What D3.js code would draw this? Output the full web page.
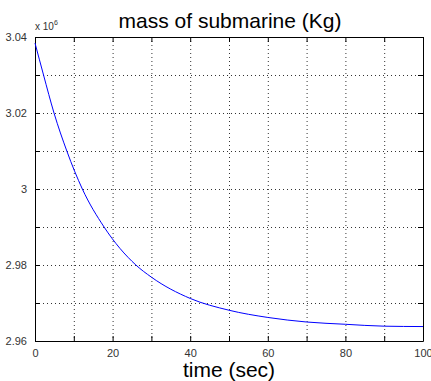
<!DOCTYPE html>
<html>
<head>
<meta charset="utf-8">
<script src="https://cdn.jsdelivr.net/npm/d3@7"></script>
<style>
  body { margin: 0; background: #fff; }
  text { font-family: "Liberation Sans", Arial, sans-serif; }
</style>
</head>
<body>
<svg id="massgraph"></svg>
<script>
// values (mass in units of 10^6 kg)
var timeSec = [0, 2.2, 4.9, 8.2, 12.2, 17.8, 26, 30, 40, 50, 60, 70, 80, 90, 100]
var massVal = [3.0384, 3.03, 3.02, 3.01, 3.00, 2.99, 2.98, 2.9768, 2.9712, 2.9681, 2.9662, 2.9650, 2.9644, 2.9639, 2.9638]
var xTickLabels = [0, 20, 40, 60, 80, 100]
var yTickLabels = [2.96, 2.98, 3, 3.02, 3.04]
var xGrid = [0, 10, 20, 30, 40, 50, 60, 70, 80, 90, 100]
var yGrid = [2.96, 2.97, 2.98, 2.99, 3, 3.01, 3.02, 3.03, 3.04]

var screen = {width:431, height:381}
var margins = {left:35, right:8, top:37, bottom:40}
var graph = {
    width: screen.width - margins.left - margins.right,
    height: screen.height - margins.top - margins.bottom
}

var svg = d3.select("#massgraph")
    .attr("width", screen.width)
    .attr("height", screen.height)

var target = svg.append("g")
    .attr("transform", "translate(" + margins.left + "," + margins.top + ")")

var xScale = d3.scaleLinear().domain([0, 100]).range([0, graph.width])
var yScale = d3.scaleLinear().domain([2.96, 3.04]).range([graph.height, 0])

// dotted grid
target.selectAll(".vgrid")
    .data(xGrid.slice(1, -1))
    .enter().append("line")
    .attr("x1", function(d) { return xScale(d) + 0.5 })
    .attr("x2", function(d) { return xScale(d) + 0.5 })
    .attr("y1", 0).attr("y2", graph.height)
    .attr("stroke", "#333").attr("stroke-dasharray", "1,3")

target.selectAll(".hgrid")
    .data(yGrid.slice(1, -1))
    .enter().append("line")
    .attr("y1", function(d) { return yScale(d) + 0.5 })
    .attr("y2", function(d) { return yScale(d) + 0.5 })
    .attr("x1", 0).attr("x2", graph.width)
    .attr("stroke", "#333").attr("stroke-dasharray", "1,3")

// axes with inward ticks
var fmt = function(d) { return xTickLabels.indexOf(d) >= 0 ? d : "" }
var yfmt = function(d) { return yTickLabels.indexOf(+d.toFixed(2)) >= 0 ? d3.format("")(+d.toFixed(2)) : "" }

var xAxis = d3.axisBottom(xScale).tickValues(xGrid).tickFormat(fmt).tickSizeInner(-5).tickSizeOuter(0).tickPadding(8)
var xAxisTop = d3.axisTop(xScale).tickValues(xGrid).tickFormat("").tickSizeInner(-5).tickSizeOuter(0)
var yAxis = d3.axisLeft(yScale).tickValues(yGrid).tickFormat(yfmt).tickSizeInner(-5).tickSizeOuter(0).tickPadding(8)
var yAxisRight = d3.axisRight(yScale).tickValues(yGrid).tickFormat("").tickSizeInner(-5).tickSizeOuter(0)

var axes = [
    [xAxis, "translate(0," + graph.height + ")"],
    [xAxisTop, "translate(0,0)"],
    [yAxis, "translate(0,0)"],
    [yAxisRight, "translate(" + graph.width + ",0)"]
]
axes.forEach(function(a) {
    var g = target.append("g").attr("transform", a[1]).call(a[0])
    g.selectAll("text").attr("font-size", 11).attr("fill", "#333")
        .style("font-family", "'Liberation Sans', Arial, sans-serif")
    g.select(".domain").attr("stroke", "#000")
    g.selectAll(".tick line").attr("stroke", "#000")
})

// curve
var line = d3.line()
    .x(function(d, i) { return xScale(timeSec[i]) })
    .y(function(d) { return yScale(d) })
    .curve(d3.curveMonotoneX)

target.append("path")
    .datum(massVal)
    .attr("d", line)
    .attr("fill", "none")
    .attr("stroke", "#0000ff")
    .attr("stroke-width", 1)

// labels
var labels = svg.append("g")

labels.append("text")
    .text("mass of submarine (Kg)")
    .attr("text-anchor", "middle")
    .attr("x", 230).attr("y", 28)
    .attr("font-size", 21)

labels.append("text")
    .text("time (sec)")
    .attr("text-anchor", "middle")
    .attr("x", 229).attr("y", 377)
    .attr("font-size", 21)

var mult = labels.append("text")
    .attr("x", 35).attr("y", 30)
    .attr("font-size", 10).attr("fill", "#333")
mult.append("tspan").text("x 10")
mult.append("tspan").text("6").attr("font-size", 7).attr("dy", -5)
</script>
</body>
</html>
